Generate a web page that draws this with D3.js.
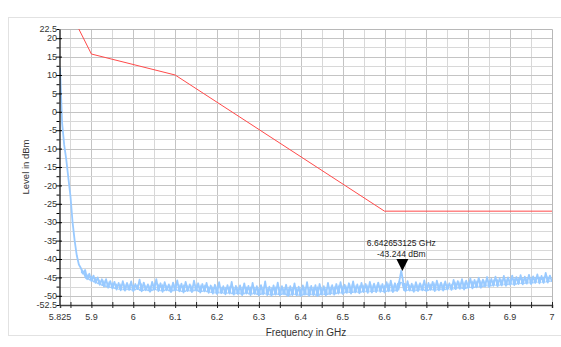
<!DOCTYPE html>
<html><head><meta charset="utf-8">
<script src="https://cdn.jsdelivr.net/npm/d3@7/dist/d3.min.js"></script>
<style>
html,body{margin:0;padding:0;background:#fff;}
svg{display:block;font-family:"Liberation Sans",Arial,sans-serif;}
</style></head>
<body><svg id="chart" width="561" height="347"></svg>
<script>
// ---- data ----
const xDomain = [5.825, 7.0];
const yDomain = [-52.5, 22.5];
const xTickLabels = [5.825, 5.9, 6.0, 6.1, 6.2, 6.3, 6.4, 6.5, 6.6, 6.7, 6.8, 6.9, 7.0];
const yTickLabels = [22.5, 20, 15, 10, 5, 0, -5, -10, -15, -20, -25, -30, -35, -40, -45, -50, -52.5];
const limitFreq  = [5.85, 5.9, 6.1, 6.6, 7.0];
const limitLevel = [27, 15.7, 10, -27, -27];
const traceStart = 5.825;
const traceStep = 0.005;
const traceLevels = [
  12, -3, -9, -13, -18, -23, -30, -35, -39, -41.5,
  -42.5, -44, -43, -45.5, -44, -46, -44.5, -46.5, -45, -47, -45.5, -47.5, -45.5, -47.8, -46, -48, -46.2, -48.3, -46.5, -48.5,
  -46, -48.6, -46.5, -48.4, -46.1, -48.7, -46.8, -48.2, -45.6, -48.8, -46.4, -48.5, -46.9, -48.9, -46.2, -48.4, -45.5, -48.7, -46.6, -48.9,
  -46.3, -48.5, -46.9, -49, -46.4, -48.6, -45.8, -48.8, -46.7, -49.1, -46.2, -48.7, -46.9, -49, -45.9, -48.6, -46.6, -49.1, -46.8, -48.8,
  -46.5, -49.2, -47.2, -49.4, -47, -49.5, -46.3, -49.3, -47.4, -49.6, -47.1, -49.4, -46.2, -49.7, -47.3, -49.5, -47.2, -49.8, -46.6, -49.4,
  -47.3, -49.8, -46.5, -49.5, -47.4, -49.9, -47.1, -49.6, -46.1, -49.8, -47.5, -50, -47.2, -49.7, -46.4, -49.9, -47.4, -49.6, -47, -50.1,
  -47.4, -49.8, -46.6, -49.9, -47.5, -50.1, -47.2, -49.7, -46.3, -50, -47.3, -49.8, -47.1, -50.1, -46.8, -49.7, -47.4, -49.9, -46.5, -49.6,
  -47.1, -49.7, -46.8, -49.4, -46.3, -49.5, -47, -49.2, -46.6, -49.4, -46.1, -49.1, -46.9, -49.3, -46.5, -49, -46.8, -49.2, -46.2, -49.1,
  -46.7, -49, -46.4, -48.9, -46.8, -49.1, -46.3, -48.8, -45.9, -49, -46.6, -48.7, -46.2, -43.2, -46.5, -48.8, -46, -48.6, -46.7, -48.9,
  -46.3, -48.7, -46.6, -48.5, -45.8, -48.8, -46.5, -48.4, -46.2, -48.7, -45.9, -48.5, -46.4, -48.6, -46.1, -48.3, -46.6, -48.4, -45.7, -48.2,
  -46, -48.1, -45.5, -48.3, -45.9, -47.9, -45.3, -48, -45.7, -47.7, -45.1, -47.8, -45.6, -47.5, -44.9, -47.6, -45.4, -47.3, -44.8, -47.4,
  -45.2, -47.2, -44.6, -47.3, -45, -47, -44.5, -47.1, -44.9, -46.8, -44.4, -46.9, -44.8, -46.7, -44.3, -46.8, -44.7, -46.5, -44.2, -46.6,
  -44.6, -46.5, -43.8, -46.4, -44.5, -46.2
];
const markerFreq = 6.642653125;
const markerLevel = -43.244;
const markerLines = ["6.642653125 GHz", "-43.244 dBm"];
const xLabel = "Frequency in GHz";
const yLabel = "Level in dBm";

// ---- drawing ----
const svg = d3.select("#chart");
const L = 60, R = 552, T = 29, B = 305;
const x = d3.scaleLinear().domain(xDomain).range([L, R]);
const y = d3.scaleLinear().domain(yDomain).range([B, T]);

// outer frame
svg.append("rect").attr("x", 8.5).attr("y", 17.5).attr("width", 600).attr("height", 318)
  .attr("fill", "none").attr("stroke", "#e2e2e2");

svg.append("defs").append("clipPath").attr("id", "clip")
  .append("rect").attr("x", L).attr("y", T).attr("width", R - L).attr("height", B - T);

// grid
const xGrid = d3.range(1, 24).map(i => xDomain[0] + 0.025 + (i - 1) * 0.05);
const yGrid = d3.range(1, 30).map(i => yDomain[0] + i * 2.5);
const g = svg.append("g");
g.selectAll(".vg").data(xGrid).enter().append("line")
  .attr("x1", d => Math.round(x(d)) + 0.5).attr("x2", d => Math.round(x(d)) + 0.5)
  .attr("y1", T).attr("y2", B)
  .attr("stroke", d => (Math.abs(Math.round(d * 10) - d * 10) < 1e-6) ? "#c4c4c4" : "#d8d8d8")
  .attr("stroke-width", 1);
g.selectAll(".hg").data(yGrid).enter().append("line")
  .attr("y1", d => Math.round(y(d)) + 0.5).attr("y2", d => Math.round(y(d)) + 0.5)
  .attr("x1", L).attr("x2", R)
  .attr("stroke", d => (d % 5 === 0) ? "#c4c4c4" : "#d8d8d8")
  .attr("stroke-width", 1);
// plot border top/right
svg.append("path").attr("d", `M${L},${T + 0.5}H${R + 0.5}V${B}`)
  .attr("fill", "none").attr("stroke", "#b8b8b8");

// limit line
const limitData = limitFreq.map((f, i) => [f, limitLevel[i]]);
svg.append("path").attr("clip-path", "url(#clip)")
  .datum(limitData)
  .attr("d", d3.line().x(d => x(d[0])).y(d => y(d[1])))
  .attr("fill", "none").attr("stroke", "#ff4a4a").attr("stroke-width", 1);

// trace: filled local envelope + line
const traceData = traceLevels.map((v, i) => [traceStart + i * traceStep, v]);
const env = traceLevels.map((v, i) => {
  const nb = traceLevels.slice(Math.max(0, i - 1), Math.min(traceLevels.length, i + 2));
  return [traceStart + i * traceStep, d3.min(nb), d3.median(nb)];
});
const traceG = svg.append("g").attr("clip-path", "url(#clip)");
traceG.append("path").datum(env.slice(10))
  .attr("d", d3.area().x(d => x(d[0])).y0(d => y(d[1]) - 0.5).y1(d => y(d[2])))
  .attr("fill", "#99caff");
traceG.append("path").datum(traceData)
  .attr("d", d3.line().x(d => x(d[0])).y(d => y(d[1])))
  .attr("fill", "none").attr("stroke", "#99caff").attr("stroke-width", 1.8)
  .attr("stroke-linejoin", "round");

// x axis
const xAxis = d3.axisBottom(x).tickValues(d3.range(0, 24).map(i => xDomain[0] + 0.025 + i * 0.05).filter(v => v <= 7.0001))
  .tickSize(3).tickFormat("");
const xa = svg.append("g").attr("transform", `translate(0,${B})`).call(xAxis);
xa.select(".domain").attr("stroke", "#444").attr("stroke-width", 1.5);
xa.selectAll(".tick line").attr("y1", -3).attr("y2", 3).attr("stroke", "#222");
svg.append("g").selectAll("text").data(xTickLabels).enter().append("text")
  .attr("x", d => x(d)).attr("y", 320).attr("text-anchor", "middle")
  .attr("font-size", 9).attr("fill", "#333")
  .text(d => d === 5.825 ? "5.825" : d3.format("")(+d.toFixed(1)));

// y axis
const yAxis = d3.axisLeft(y).tickValues(d3.range(0, 31).map(i => yDomain[0] + i * 2.5)).tickSize(0).tickFormat("");
const ya = svg.append("g").attr("transform", `translate(${L - 0.5},0)`).call(yAxis);
ya.select(".domain").attr("stroke", "#000").attr("stroke-width", 1.2);
ya.selectAll(".tick line")
  .attr("x1", d => (d % 5 === 0) ? -3.5 : -3).attr("x2", d => (d % 5 === 0) ? 2.5 : 0)
  .attr("stroke", "#000");
svg.append("g").selectAll("text").data(yTickLabels).enter().append("text")
  .attr("x", 57).attr("y", d => y(d) + 3.2).attr("text-anchor", "end")
  .attr("font-size", 9).attr("fill", "#333")
  .text(d => String(d));

// axis titles
svg.append("text").attr("x", (L + R) / 2).attr("y", 336).attr("text-anchor", "middle")
  .attr("font-size", 10).attr("fill", "#333").text(xLabel);
svg.append("text").attr("transform", `translate(29,${(T + B) / 2}) rotate(-90)`)
  .attr("text-anchor", "middle").attr("font-size", 9.5).attr("fill", "#333").text(yLabel);

// marker
const mx = x(markerFreq), my = y(markerLevel);
svg.append("path").attr("d", `M${mx - 6},${my - 12}L${mx + 6},${my - 12}L${mx},${my}Z`).attr("fill", "#000");
svg.append("g").selectAll("text").data(markerLines).enter().append("text")
  .attr("x", mx - 1).attr("y", (d, i) => my - 25 + i * 11).attr("text-anchor", "middle")
  .attr("font-size", 8.5).attr("fill", "#222").text(d => d);
</script></body></html>
